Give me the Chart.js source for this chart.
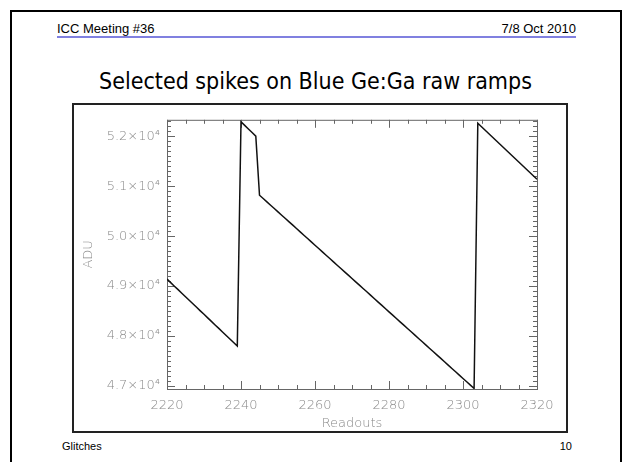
<!DOCTYPE html>
<html>
<head>
<meta charset="utf-8">
<script src="https://cdn.jsdelivr.net/npm/chart.js@4.4.1/dist/chart.umd.min.js"></script>
<style>
  body { margin: 0; width: 624px; height: 462px; position: relative; background: #fff; overflow: hidden; }
  .abs { position: absolute; white-space: nowrap; }
  #frame { left: 10px; top: 10px; width: 608px; height: 460px; border: 2px solid #000; border-bottom: none; }
  .hdr { font: 13px "Liberation Sans", Arial, sans-serif; line-height: 13px; color: #000; top: 22px; }
  #rule { left: 57px; top: 36px; width: 519px; height: 2px; background: #8080e0; }
  #title { left: 0; width: 631px; text-align: center; top: 70px; font: 23px "DejaVu Sans Condensed", "DejaVu Sans", sans-serif; font-stretch: condensed; line-height: 23px; color: #000; }
  #box { left: 72px; top: 103px; width: 496px; height: 330px; box-sizing: border-box; border: 2px solid #222; }
  #myChart { position: absolute; left: 0; top: 0; }
  .ftr { font: 11px "Liberation Sans", Arial, sans-serif; line-height: 11px; top: 441px; }
</style>
</head>
<body>
<div id="frame" class="abs"></div>
<div class="abs hdr" style="left:57px">ICC Meeting #36</div>
<div class="abs hdr" style="right:48px">7/8 Oct 2010</div>
<div id="rule" class="abs"></div>
<div id="title" class="abs">Selected spikes on Blue Ge:Ga raw ramps</div>
<div id="box" class="abs"><canvas id="myChart" width="492" height="326"></canvas></div>
<div class="abs ftr" style="left:62px">Glitches</div>
<div class="abs ftr" style="right:52px">10</div>
<script>
const ctx = document.getElementById("myChart").getContext("2d");

// readout number and raw ADU value
const readouts = [
    2220, 2221, 2222, 2223, 2224, 2225, 2226, 2227, 2228, 2229,
    2230, 2231, 2232, 2233, 2234, 2235, 2236, 2237, 2238, 2239,
    2240, 2241, 2242, 2243, 2244, 2245, 2246, 2247, 2248, 2249,
    2250, 2251, 2252, 2253, 2254, 2255, 2256, 2257, 2258, 2259,
    2260, 2261, 2262, 2263, 2264, 2265, 2266, 2267, 2268, 2269,
    2270, 2271, 2272, 2273, 2274, 2275, 2276, 2277, 2278, 2279,
    2280, 2281, 2282, 2283, 2284, 2285, 2286, 2287, 2288, 2289,
    2290, 2291, 2292, 2293, 2294, 2295, 2296, 2297, 2298, 2299,
    2300, 2301, 2302, 2303, 2304, 2305, 2306, 2307, 2308, 2309,
    2310, 2311, 2312, 2313, 2314, 2315, 2316, 2317, 2318, 2319,
    2320
];
const adu = [
    49140, 49070, 48998, 48929, 48857, 48788, 48717, 48646, 48576, 48505,
    48436, 48364, 48294, 48223, 48153, 48082, 48011, 47941, 47870, 47800,
    52290, 52218, 52147, 52074, 52002, 50820, 50753, 50687, 50620, 50553,
    50486, 50420, 50353, 50286, 50220, 50153, 50086, 50019, 49953, 49886,
    49819, 49753, 49686, 49619, 49553, 49486, 49419, 49352, 49286, 49219,
    49152, 49086, 49019, 48952, 48886, 48819, 48752, 48685, 48619, 48552,
    48485, 48419, 48352, 48285, 48219, 48152, 48085, 48018, 47952, 47885,
    47818, 47752, 47685, 47618, 47552, 47485, 47418, 47351, 47285, 47218,
    47151, 47085, 47018, 46951, 52260, 52190, 52120, 52050, 51980, 51910,
    51840, 51770, 51700, 51630, 51560, 51490, 51420, 51350, 51280, 51210,
    51140
];
const xTicks = [2220, 2240, 2260, 2280, 2300, 2320];
const yTicks = [47000, 48000, 49000, 50000, 51000, 52000];

const axisFont = { family: "'DejaVu Sans', sans-serif", size: 13, weight: '200' };
const grey = '#8a8a8a';

// IDL style frame: ticks pointing inwards on all four sides, minor ticks too
const idlFrame = {
    id: 'idlFrame',
    beforeDatasetsDraw(chart) {
        const c = chart.ctx;
        const a = chart.chartArea;
        const x = chart.scales.x, y = chart.scales.y;
        c.save();
        c.strokeStyle = '#666';
        c.lineWidth = 1;
        c.strokeRect(a.left + 0.5, a.top + 0.5, a.right - a.left, a.bottom - a.top);
        c.beginPath();
        for (let v = x.min; v <= x.max; v += 5) {
            const px = Math.round(x.getPixelForValue(v)) + 0.5;
            const len = v % 20 === 0 ? 8 : 4;
            c.moveTo(px, a.bottom); c.lineTo(px, a.bottom - len);
            c.moveTo(px, a.top); c.lineTo(px, a.top + len);
        }
        for (let v = 47000; v <= y.max; v += 100) {
            const py = Math.round(y.getPixelForValue(v)) + 0.5;
            const len = v % 1000 === 0 ? 8 : 4;
            c.moveTo(a.left, py); c.lineTo(a.left + len, py);
            c.moveTo(a.right, py); c.lineTo(a.right - len, py);
        }
        c.stroke();
        c.restore();
    }
};

const data = {
    datasets: [{
        data: readouts.map((r, i) => ({ x: r, y: adu[i] })),
        borderColor: '#111',
        borderWidth: 1.5,
        pointRadius: 0,
        tension: 0
    }]
};

const config = {
    type: 'line',
    data: data,
    options: {
        responsive: false,
        animation: false,
        devicePixelRatio: 1,
        layout: { padding: { top: 12, right: 29, left: 0, bottom: 0 } },
        plugins: { legend: { display: false }, tooltip: { enabled: false } },
        scales: {
            x: {
                type: 'linear',
                min: 2220,
                max: 2320,
                afterFit: s => { s.height = 42; },
                afterBuildTicks: s => { s.ticks = xTicks.map(v => ({ value: v })); },
                grid: { display: false, drawTicks: false },
                border: { display: false },
                ticks: {
                    color: grey, font: axisFont, padding: 9, maxRotation: 0,
                    callback: function(value) {
                        return String(value);
                    }
                },
                title: { display: true, text: 'Readouts', color: grey, font: axisFont, padding: 0 }
            },
            y: {
                min: 46940,
                max: 52330,
                afterFit: s => { s.width = 93; },
                afterBuildTicks: s => { s.ticks = yTicks.map(v => ({ value: v })); },
                grid: { display: false, drawTicks: false },
                border: { display: false },
                ticks: {
                    color: grey,
                    font: axisFont,
                    padding: 7,
                    callback: function(value) {
                        return (value / 10000).toFixed(1) + '×10⁴';
                    }
                },
                title: { display: true, text: 'ADU', color: grey, font: axisFont, padding: 7 }
            }
        }
    },
    plugins: [idlFrame]
};

const myChart = new Chart(ctx, config);
</script>
</body>
</html>
